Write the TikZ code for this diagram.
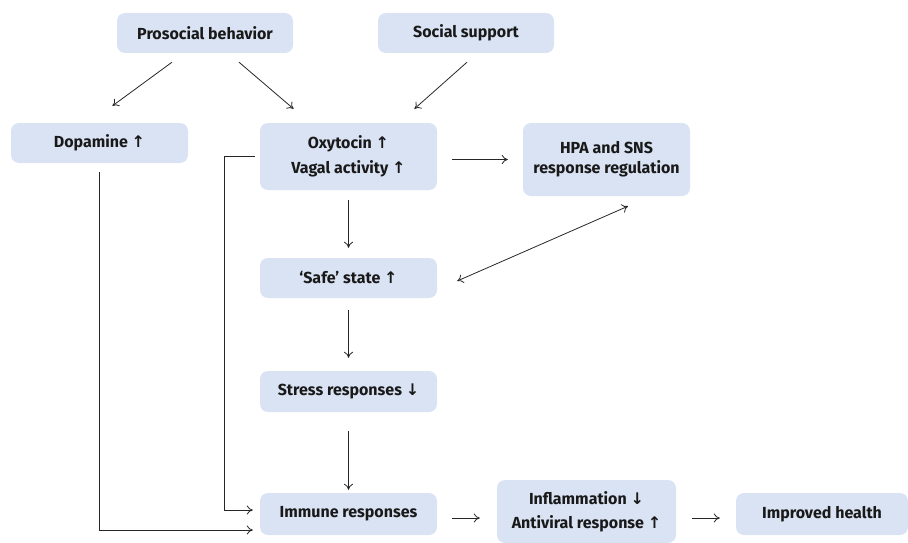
\documentclass[tikz,border=0pt]{standalone}
\usepackage{fontspec}
\setmainfont{Fira Sans}
\newfontfamily\arr{DejaVu Sans}
\usetikzlibrary{arrows.meta}
\definecolor{boxfill}{HTML}{DAE3F3}
\newcommand{\up}{{\arr\bfseries ↑}}
\newcommand{\dn}{{\arr\bfseries ↓}}
\tikzset{
  box/.style={fill=boxfill, rounded corners=8pt, inner sep=0pt, align=center,
    font=\fontsize{16}{25}\selectfont\bfseries, text=black!90},
  conn/.style={-{To[length=6pt,width=9pt]}, line width=0.8pt, draw=black!85},
  dconn/.style={{To[length=6pt,width=9pt]}-{To[length=6pt,width=9pt]}, line width=0.8pt, draw=black!85}
}
\begin{document}
\begin{tikzpicture}[x=1pt,y=-1pt]
\useasboundingbox (0,0) rectangle (908,543);
\node[box, minimum width=176pt, minimum height=40pt] (pro) at (205,33) {Prosocial behavior};
\node[box, minimum width=176pt, minimum height=40pt] (soc) at (466,33) {Social support};
\node[box, minimum width=177pt, minimum height=40pt] (dop) at (99.5,143) {Dopamine \up};
\node[box, minimum width=177pt, minimum height=67pt] (oxy) at (348.5,156.5) {Oxytocin \up\\Vagal activity \up};
\node[box, minimum width=167pt, minimum height=73pt, font=\fontsize{16}{20}\selectfont\bfseries] (hpa) at (606.5,159.5) {HPA and SNS\\response regulation};
\node[box, minimum width=177pt, minimum height=40pt] (safe) at (348.5,278) {‘Safe’ state \up};
\node[box, minimum width=177pt, minimum height=41pt] (str) at (348.5,391.5) {Stress responses \dn};
\node[box, minimum width=177pt, minimum height=42pt] (imm) at (348.5,514) {Immune responses};
\node[box, minimum width=179pt, minimum height=63pt, font=\fontsize{16}{24}\selectfont\bfseries] (inf) at (586.5,511.5) {Inflammation \dn\\Antiviral response \up};
\node[box, minimum width=172pt, minimum height=42pt] (imp) at (822,514) {Improved health};

\draw[conn] ([xshift=-33pt,yshift=-9pt]pro.south) -- ([xshift=13pt,yshift=17pt]dop.north);
\draw[conn] ([xshift=34pt,yshift=-9pt]pro.south) -- ([xshift=-55pt,yshift=14pt]oxy.north);
\draw[conn] ([xshift=1pt,yshift=-9pt]soc.south) -- ([xshift=66pt,yshift=14pt]oxy.north);
\draw[conn] ([xshift=15pt,yshift=-3pt]oxy.east) -- ([xshift=-15pt]hpa.west);
\draw[conn] ([yshift=-10pt]oxy.south) -- ([yshift=10pt]safe.north);
\draw[conn] ([yshift=-12pt]safe.south) -- ([yshift=13pt]str.north);
\draw[conn] ([yshift=-19pt]str.south) -- ([yshift=3pt]imm.north);
\draw[dconn] ([xshift=20pt,yshift=-3pt]safe.east) -- ([xshift=21.5pt,yshift=-10pt]hpa.south);
\draw[conn] ([xshift=-5pt]oxy.west) -- ++(-30,0) |- ([xshift=-7pt,yshift=4pt]imm.west);
\draw[conn] ([yshift=-9pt]dop.south) |- ([xshift=-7pt,yshift=-16pt]imm.west);
\draw[conn] ([xshift=15pt,yshift=-4pt]imm.east) -- ([xshift=-17pt,yshift=-6.5pt]inf.west);
\draw[conn] ([xshift=16pt,yshift=-6.5pt]inf.east) -- ([xshift=-16pt,yshift=-4pt]imp.west);
\end{tikzpicture}
\end{document}
